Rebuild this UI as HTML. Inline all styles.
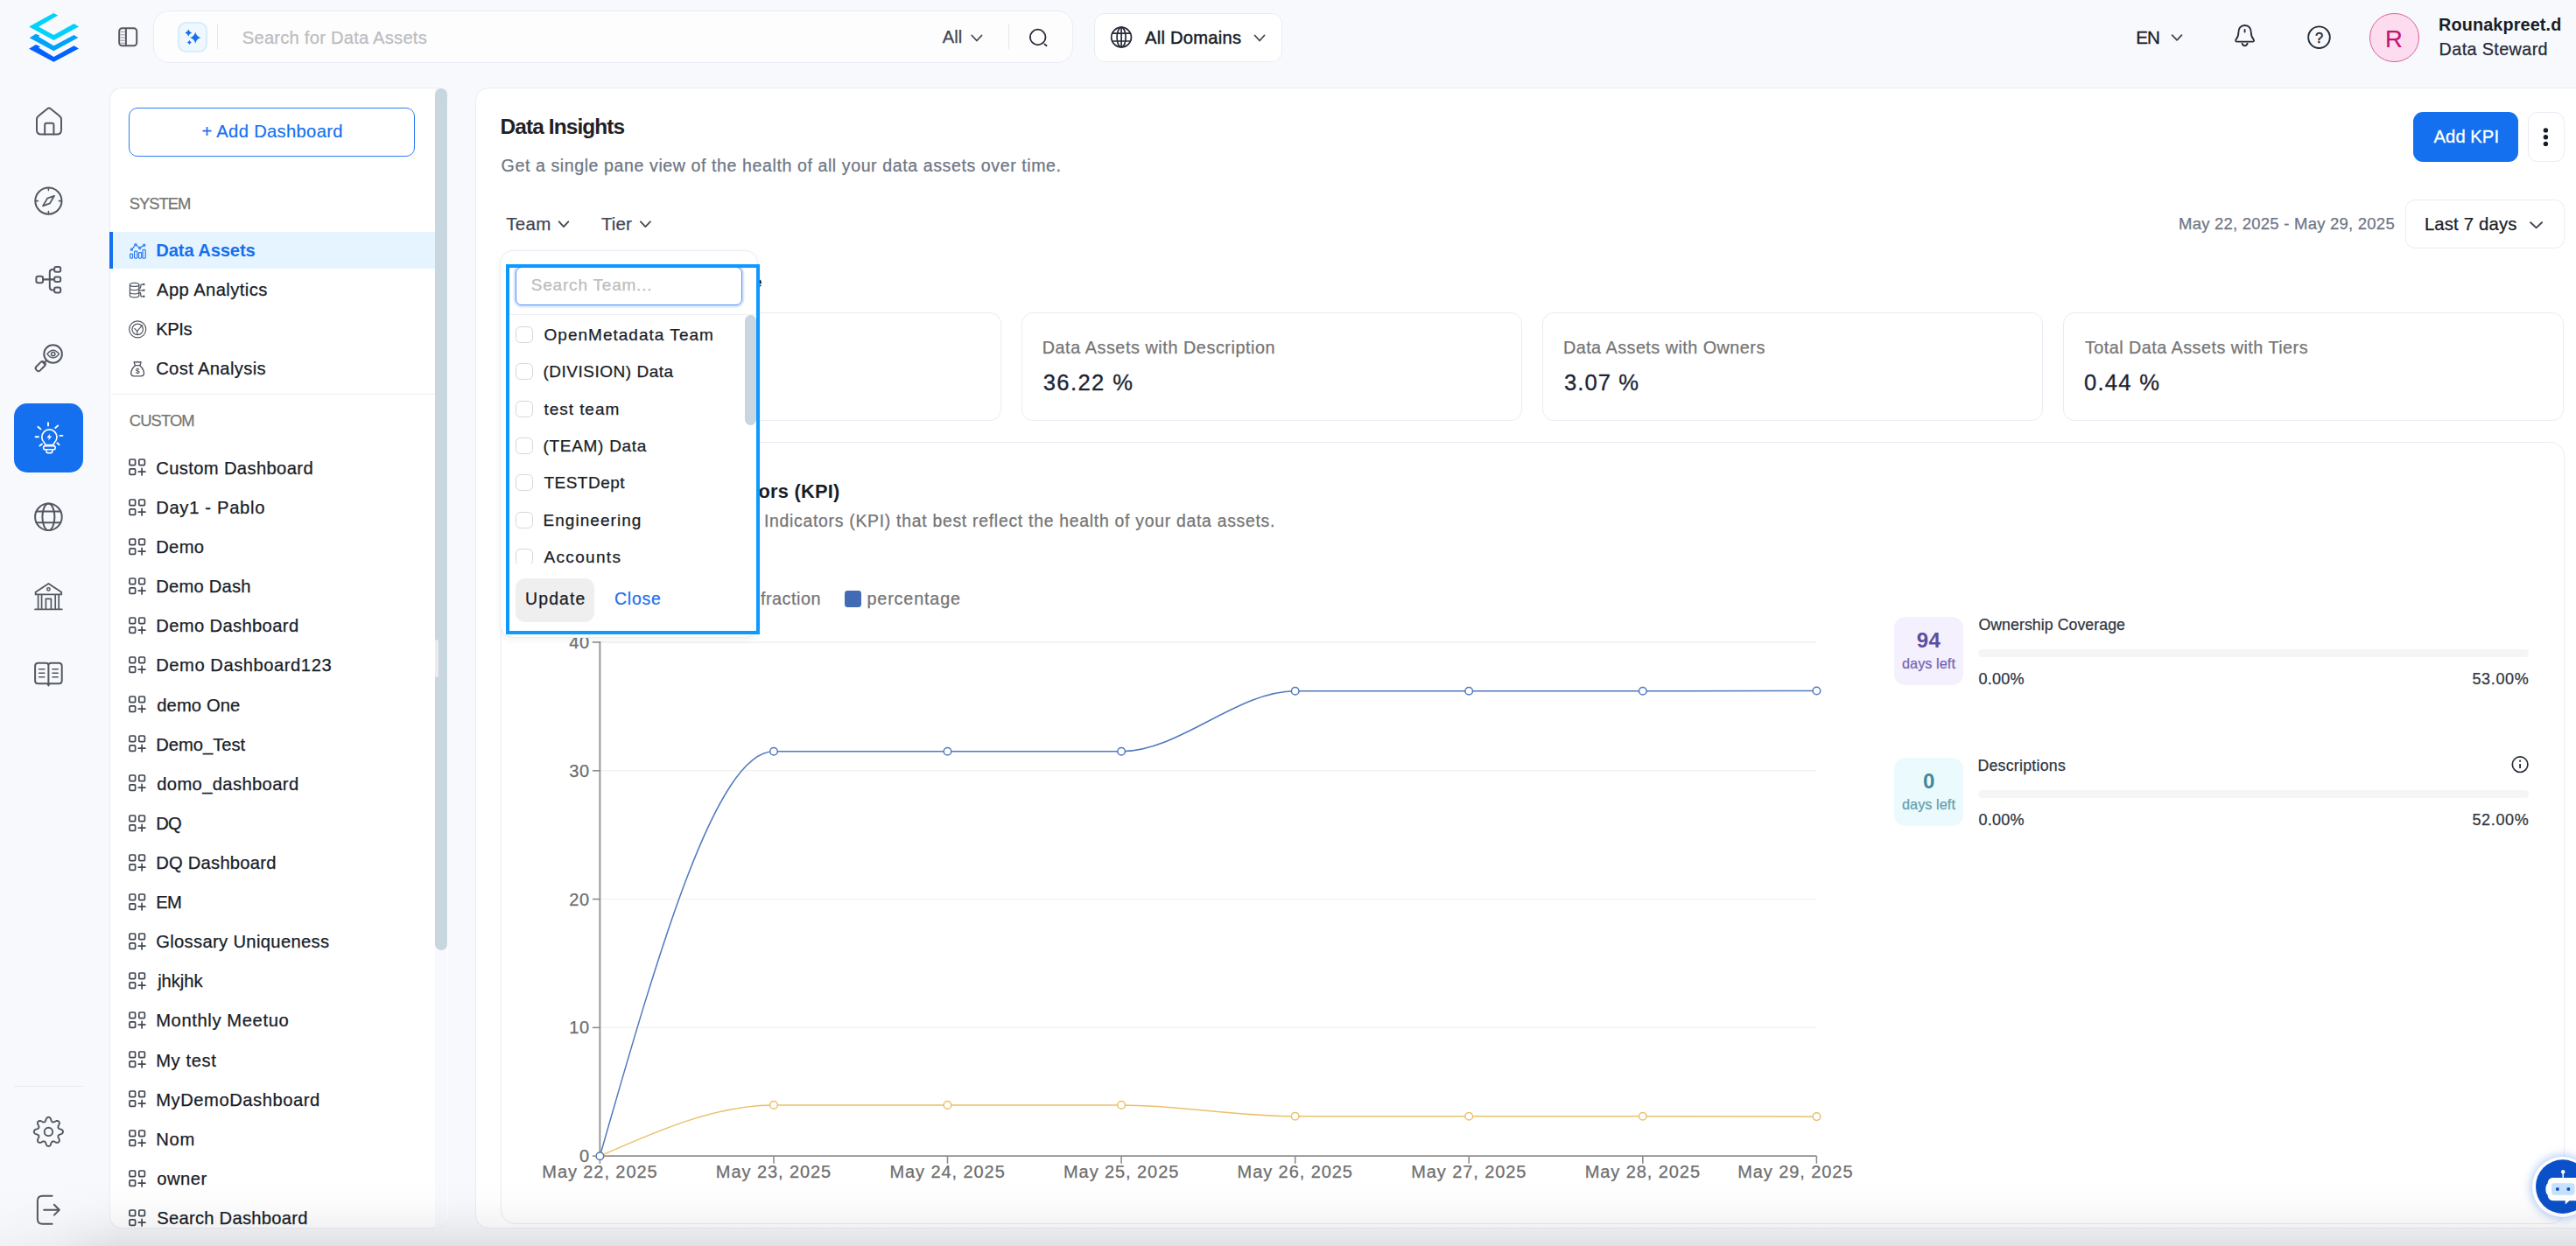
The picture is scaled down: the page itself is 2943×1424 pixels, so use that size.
<!DOCTYPE html>
<html lang="en"><head><meta charset="utf-8"><title>Data Insights</title>
<style>
html,body{margin:0;padding:0;}
body{width:2943px;height:1424px;overflow:hidden;position:relative;background:#f8f9fc;font-family:"Liberation Sans",sans-serif;}
.t{position:absolute;white-space:pre;display:block;}
.b{position:absolute;box-sizing:border-box;}
svg{position:absolute;overflow:visible;}
</style></head><body>
<svg style="left:0;top:0" width="120" height="90" viewBox="0 0 120 90">
<polygon fill="#00d2fb" points="61.1,14.9 66.3,17.5 44.1,30.4 61.4,40 84.5,27.1 90,30.4 61.4,46.1 33.1,30.4"/>
<polygon fill="#00a3fa" points="33.7,43.2 40.9,38.7 45.2,40.6 44.1,41.9 61.4,52.2 84.5,40 89.4,42.9 61.4,58.3"/>
<polygon fill="#0062ff" points="33.1,55.7 40.9,51.1 46.1,53.2 44.1,54.4 61.4,65 84.5,52.2 90,55.4 61.4,70.8"/>
</svg>
<svg style="left:0;top:0" width="200" height="90">
<rect x="136.2" y="32.3" width="20" height="20" rx="3.5" fill="none" stroke="#535862" stroke-width="2"/>
<line x1="143.9" y1="32" x2="143.9" y2="52.5" stroke="#535862" stroke-width="2"/>
<g stroke="#a4a7ae" stroke-width="1.3"><line x1="137.5" y1="36.4" x2="142.8" y2="36.4"/><line x1="137.5" y1="39.7" x2="142.8" y2="39.7"/><line x1="137.5" y1="43" x2="142.8" y2="43"/><line x1="137.5" y1="46.3" x2="142.8" y2="46.3"/><line x1="137.5" y1="49.4" x2="142.8" y2="49.4"/></g>
</svg>
<div class="b" style="left:175px;top:12px;width:1051px;height:60px;background:#fdfdfe;border:1px solid #eaecf5;border-radius:18px;"></div>
<div class="b" style="left:203.2px;top:25.2px;width:34px;height:34.4px;background:#eff8ff;border:2px solid #d8edfd;border-radius:9.5px;"></div>
<svg style="left:0;top:0" width="2943" height="1424"><path d="M223.2 36.40 Q224.44 41.76 229.40 43.1 Q224.44 44.44 223.2 49.80 Q221.96 44.44 217.00 43.1 Q221.96 41.76 223.2 36.40Z" fill="#1570ef"/><path d="M215.3 33.60 Q216.16 36.64 219.20 37.5 Q216.16 38.36 215.3 41.40 Q214.44 38.36 211.40 37.5 Q214.44 36.64 215.3 33.60Z" fill="#1570ef"/><path d="M216.4 46.10 Q217.15 47.78 218.90 48.5 Q217.15 49.22 216.4 50.90 Q215.65 49.22 213.90 48.5 Q215.65 47.78 216.4 46.10Z" fill="#1570ef"/></svg>
<div class="b" style="left:248px;top:28px;width:1px;height:28px;background:#e4e7ec;"></div>
<span class="t" style="left:276.80px;top:33px;font-size:20.2px;line-height:20.2px;color:#bcbcbf;letter-spacing:0.215px;-webkit-text-stroke:0.25px #bcbcbf;">Search for Data Assets</span>
<span class="t" style="left:1076.80px;top:32px;font-size:20.2px;line-height:20.2px;color:#414651;letter-spacing:0.025px;-webkit-text-stroke:0.25px #414651;">All</span>
<svg style="left:0;top:0" width="2943" height="1424"><path d="M1110.3 40.5 L1115.9 46.5 L1121.5 40.5" fill="none" stroke="#414651" stroke-width="1.8" stroke-linecap="round" stroke-linejoin="round"/></svg>
<div class="b" style="left:1152px;top:28px;width:1px;height:28px;background:#e4e7ec;"></div>
<svg style="left:0;top:0" width="2943" height="1424"><circle cx="1185.7" cy="42.5" r="8.8" fill="none" stroke="#252b37" stroke-width="1.8"/><line x1="1193.4" y1="50.6" x2="1195.6" y2="52.2" stroke="#252b37" stroke-width="1.8" stroke-linecap="round"/></svg>
<div class="b" style="left:1249.5px;top:15px;width:215.5px;height:55.5px;background:#ffffff;border:1px solid #eaecf5;border-radius:12px;"></div>
<svg style="left:0;top:0" width="2943" height="1424"><g fill="none" stroke="#252b37" stroke-width="1.7">
<circle cx="1281.1" cy="42.6" r="11.4"/><ellipse cx="1281.1" cy="42.6" rx="5" ry="11.4"/><line x1="1281.1" y1="31.2" x2="1281.1" y2="54"/>
<path d="M1270.6 38.2 H1291.6 M1270.6 47 H1291.6"/></g></svg>
<span class="t" style="left:1308.00px;top:33px;font-size:20.2px;line-height:20.2px;color:#181d27;letter-spacing:0.239px;-webkit-text-stroke:0.45px #181d27;">All Domains</span>
<svg style="left:0;top:0" width="2943" height="1424"><path d="M1433.6 40.5 L1439.1 46.5 L1444.5 40.5" fill="none" stroke="#414651" stroke-width="1.8" stroke-linecap="round" stroke-linejoin="round"/></svg>
<span class="t" style="left:2440.30px;top:33px;font-size:20.6px;line-height:20.6px;color:#181d27;letter-spacing:-0.936px;-webkit-text-stroke:0.3px #181d27;">EN</span>
<svg style="left:0;top:0" width="2943" height="1424"><path d="M2481.6 40.1 L2487.1 45.9 L2492.5 40.1" fill="none" stroke="#414651" stroke-width="1.8" stroke-linecap="round" stroke-linejoin="round"/></svg>
<svg style="left:2552.8px;top:27.8px" width="23.2" height="25.3" viewBox="0 0 23.2 25.3"><g fill="none" stroke="#252b37" stroke-width="1.8" stroke-linecap="round" stroke-linejoin="round">
<path d="M11.6 1 C6.6 1 4.4 4.8 4.4 9 C4.4 13.5 3 15.5 1.5 17.2 C0.6 18.3 1.2 19.6 2.8 19.6 H20.4 C22 19.6 22.6 18.3 21.7 17.2 C20.2 15.5 18.8 13.5 18.8 9 C18.8 4.8 16.6 1 11.6 1Z"/>
<path d="M8.6 21.6 C9.2 23.4 10.2 24.3 11.6 24.3 C13 24.3 14 23.4 14.6 21.6"/><line x1="11.6" y1="5.8" x2="11.6" y2="8.6"/></g></svg>
<svg style="left:0;top:0" width="2943" height="1424"><circle cx="2649.5" cy="42.7" r="12.3" fill="none" stroke="#252b37" stroke-width="1.9"/></svg>
<span class="t" style="left:2644.90px;top:35px;font-size:16.5px;line-height:16.5px;color:#252b37;-webkit-text-stroke:0.5px #252b37;">?</span>
<div class="b" style="left:2707px;top:14.7px;width:56.8px;height:56.6px;background:#fddcf0;border:1.4px solid #d6609c;border-radius:29px;"></div>
<span class="t" style="left:2725.10px;top:31px;font-size:27.4px;line-height:27.4px;color:#c11574;-webkit-text-stroke:0.2px #c11574;">R</span>
<span class="t" style="left:2786.00px;top:19px;font-size:19.8px;line-height:19.8px;color:#181d27;font-weight:700;letter-spacing:0.150px;">Rounakpreet.d</span>
<span class="t" style="left:2786.60px;top:47px;font-size:19.8px;line-height:19.8px;color:#252b37;letter-spacing:0.378px;-webkit-text-stroke:0.25px #252b37;">Data Steward</span>
<svg style="left:0;top:0" width="2943" height="1424"><g fill="none" stroke="#535862" stroke-width="2" stroke-linecap="round" stroke-linejoin="round"><path d="M42 136.5 C42 134.8 42.6 133.6 44 132.6 L54.2 124.2 C55.4 123.3 56.6 123.3 57.8 124.2 L68 132.6 C69.4 133.6 70 134.8 70 136.5 V148.5 C70 151.8 68.2 153.6 65 153.6 H47 C43.8 153.6 42 151.8 42 148.5 Z"/><path d="M51.2 153.4 V142.6 C51.2 141.4 51.9 140.7 53.1 140.7 H59.5 C60.7 140.7 61.4 141.4 61.4 142.6 V153.4"/></g></svg>
<svg style="left:0;top:0" width="2943" height="1424"><g fill="none" stroke="#535862" stroke-width="2" stroke-linecap="round" stroke-linejoin="round"><circle cx="55.4" cy="229.6" r="15.1"/><path d="M55.4 214.8 V217.6 M55.4 241.6 V244.4 M40.6 229.6 H43.4 M67.4 229.6 H70.2" stroke-width="1.6"/><path d="M62 223.8 L54.2 226.6 L49 235.4 L57 232.4 Z" stroke-width="1.8"/></g></svg>
<svg style="left:0;top:0" width="2943" height="1424"><g fill="none" stroke="#535862" stroke-width="2" stroke-linecap="round" stroke-linejoin="round"><rect x="41.4" y="315.7" width="7.7" height="7.6" rx="2.2"/><rect x="62.1" y="304.9" width="7.1" height="5.8" rx="2"/><rect x="62.1" y="316.5" width="7.1" height="5.6" rx="2"/><rect x="62.1" y="328.6" width="7.1" height="5.9" rx="2"/><path d="M49.4 319.4 H61.8" stroke-width="2.4"/><path d="M61.8 307.9 H60 C57.9 307.9 56.8 309 56.8 311.1 V328.3 C56.8 330.4 57.9 331.5 60 331.5 H61.8"/></g></svg>
<svg style="left:0;top:0" width="2943" height="1424"><g fill="none" stroke="#535862" stroke-width="2" stroke-linecap="round" stroke-linejoin="round"><circle cx="60.6" cy="404.5" r="10.3"/><path d="M53.2 412 L51 414.4"/><rect x="-3.1" y="-6.2" width="6.2" height="12.4" rx="2.6" transform="translate(46.2 418.6) rotate(45)"/><path d="M48.4 413.6 L51.4 416.8" stroke-width="1.6"/><path d="M54 404.6 C56.4 401.4 58.6 400.3 60.7 400.3 C62.8 400.3 65 401.4 67.4 404.6 C65 407.8 62.8 408.9 60.7 408.9 C58.6 408.9 56.4 407.8 54 404.6 Z" stroke-width="1.5"/><circle cx="60.7" cy="404.6" r="2.2" stroke-width="1.5"/></g></svg>
<div class="b" style="left:15.9px;top:460.8px;width:79.5px;height:79px;background:#1570ef;border-radius:15px;"></div>
<svg style="left:0;top:0" width="2943" height="1424"><g fill="none" stroke="#ffffff" stroke-width="2" stroke-linecap="round" stroke-linejoin="round"><path d="M55 483.2 V486.4 M43.4 487.8 L46.4 490.4 M66.2 486.4 L63.2 489 M40.6 499.3 H44 M68.4 497.9 H71.4 M45.4 509.4 L47.9 507.4 M65.4 506.2 L67.5 508.3" stroke-width="1.9"/><path d="M52 508.6 L50.6 505.9 A8.6 8.6 0 1 1 62.2 505.9 L60.8 508.6 Z" stroke-width="1.7"/><rect x="49.6" y="509.6" width="13.6" height="4.2" rx="2.1" stroke-width="1.6"/><path d="M53 514.6 V515.8 C53 517 53.7 517.6 54.9 517.6 H57.9 C59.1 517.6 59.8 517 59.8 515.8 V514.6" stroke-width="1.6"/><path d="M57.3 495.4 L53.4 500.3 H56 L55.1 503.6 L59.2 498.5 H56.6 Z" fill="#ffffff" stroke="none"/></g></svg>
<svg style="left:0;top:0" width="2943" height="1424"><g fill="none" stroke="#535862" stroke-width="2" stroke-linecap="round" stroke-linejoin="round"><circle cx="55.4" cy="590.8" r="15.3"/><ellipse cx="55.4" cy="590.8" rx="7" ry="15.3"/><path d="M41.6 584.4 H69.2 M41.6 597.2 H69.2"/></g></svg>
<svg style="left:0;top:0" width="2943" height="1424"><g fill="none" stroke="#535862" stroke-width="2" stroke-linecap="round" stroke-linejoin="round"><path d="M40.6 676.8 L55.4 667 L70.2 676.8 V679.4 H40.6 Z" stroke-width="1.8"/><circle cx="55.4" cy="673.4" r="1.7" stroke-width="1.5"/><path d="M43.6 679.8 V695.6 M47.6 679.8 V695.6 M63.2 679.8 V695.6 M67.2 679.8 V695.6 M52.4 695.6 V684.4 H58.4 V695.6 M40 696.4 H70.8" stroke-width="1.7"/></g></svg>
<svg style="left:0;top:0" width="2943" height="1424"><g fill="none" stroke="#535862" stroke-width="2" stroke-linecap="round" stroke-linejoin="round"><path d="M55.4 760.6 C55.4 758.8 54.4 757.8 52.6 757.8 H43.6 C41.3 757.8 40.1 759 40.1 761.3 V777.8 C40.1 780.1 41.3 781.3 43.6 781.3 H52.6 C54.4 781.3 55.4 782 55.4 783.4 C55.4 782 56.4 781.3 58.2 781.3 H67.2 C69.5 781.3 70.7 780.1 70.7 777.8 V761.3 C70.7 759 69.5 757.8 67.2 757.8 H58.2 C56.4 757.8 55.4 758.8 55.4 760.6 V783.6"/><path d="M44.6 764.8 H50.8 M44.6 769.3 H50.8 M44.6 773.8 H50.8 M60 764.8 H66.2 M60 769.3 H66.2 M60 773.8 H66.2" stroke-width="1.6"/></g></svg>
<div class="b" style="left:16px;top:1240.6px;width:79.4px;height:1px;background:#e9eaeb;"></div>
<svg style="left:0;top:0" width="2943" height="1424"><g fill="none" stroke="#535862" stroke-width="1.9" stroke-linejoin="round">
<path d="M55.40 1276.80 L56.05 1276.89 L56.68 1277.17 L57.27 1277.62 L57.80 1278.28 L58.19 1279.37 L58.50 1280.48 L58.85 1281.16 L59.21 1281.69 L59.58 1282.07 L59.99 1282.31 L60.46 1282.43 L60.99 1282.43 L61.61 1282.31 L62.34 1282.07 L63.34 1281.51 L64.40 1281.01 L65.23 1280.92 L65.97 1281.02 L66.61 1281.27 L67.14 1281.66 L67.53 1282.19 L67.78 1282.83 L67.88 1283.57 L67.79 1284.40 L67.29 1285.46 L66.73 1286.46 L66.49 1287.19 L66.37 1287.81 L66.37 1288.34 L66.49 1288.81 L66.73 1289.22 L67.11 1289.59 L67.64 1289.95 L68.32 1290.30 L69.43 1290.61 L70.52 1291.00 L71.18 1291.53 L71.63 1292.12 L71.91 1292.75 L72.00 1293.40 L71.91 1294.05 L71.63 1294.68 L71.18 1295.27 L70.52 1295.80 L69.43 1296.19 L68.32 1296.50 L67.64 1296.85 L67.11 1297.21 L66.73 1297.58 L66.49 1297.99 L66.37 1298.46 L66.37 1298.99 L66.49 1299.61 L66.73 1300.34 L67.29 1301.34 L67.79 1302.40 L67.88 1303.23 L67.78 1303.97 L67.53 1304.61 L67.14 1305.14 L66.61 1305.53 L65.97 1305.78 L65.23 1305.88 L64.40 1305.79 L63.34 1305.29 L62.34 1304.73 L61.61 1304.49 L60.99 1304.37 L60.46 1304.37 L59.99 1304.49 L59.58 1304.73 L59.21 1305.11 L58.85 1305.64 L58.50 1306.32 L58.19 1307.43 L57.80 1308.52 L57.27 1309.18 L56.68 1309.63 L56.05 1309.91 L55.40 1310.00 L54.75 1309.91 L54.12 1309.63 L53.53 1309.18 L53.00 1308.52 L52.61 1307.43 L52.30 1306.32 L51.95 1305.64 L51.59 1305.11 L51.22 1304.73 L50.81 1304.49 L50.34 1304.37 L49.81 1304.37 L49.19 1304.49 L48.46 1304.73 L47.46 1305.29 L46.40 1305.79 L45.57 1305.88 L44.83 1305.78 L44.19 1305.53 L43.66 1305.14 L43.27 1304.61 L43.02 1303.97 L42.92 1303.23 L43.01 1302.40 L43.51 1301.34 L44.07 1300.34 L44.31 1299.61 L44.43 1298.99 L44.43 1298.46 L44.31 1297.99 L44.07 1297.58 L43.69 1297.21 L43.16 1296.85 L42.48 1296.50 L41.37 1296.19 L40.28 1295.80 L39.62 1295.27 L39.17 1294.68 L38.89 1294.05 L38.80 1293.40 L38.89 1292.75 L39.17 1292.12 L39.62 1291.53 L40.28 1291.00 L41.37 1290.61 L42.48 1290.30 L43.16 1289.95 L43.69 1289.59 L44.07 1289.22 L44.31 1288.81 L44.43 1288.34 L44.43 1287.81 L44.31 1287.19 L44.07 1286.46 L43.51 1285.46 L43.01 1284.40 L42.92 1283.57 L43.02 1282.83 L43.27 1282.19 L43.66 1281.66 L44.19 1281.27 L44.83 1281.02 L45.57 1280.92 L46.40 1281.01 L47.46 1281.51 L48.46 1282.07 L49.19 1282.31 L49.81 1282.43 L50.34 1282.43 L50.81 1282.31 L51.22 1282.07 L51.59 1281.69 L51.95 1281.16 L52.30 1280.48 L52.61 1279.37 L53.00 1278.28 L53.53 1277.62 L54.12 1277.17 L54.75 1276.89 Z"/>
<circle cx="55.4" cy="1293.4" r="4.7"/></g></svg>
<svg style="left:0;top:0" width="2943" height="1424"><g fill="none" stroke="#535862" stroke-width="2" stroke-linecap="round" stroke-linejoin="round"><path d="M59.6 1366.8 H48.4 C44.8 1366.8 42.9 1368.7 42.9 1372.3 V1393.3 C42.9 1396.9 44.8 1398.8 48.4 1398.8 H59.6"/><path d="M50.2 1382.7 H67.6 M61.9 1376.8 L67.8 1382.7 L61.9 1388.6"/></g></svg>
<div class="b" style="left:124.5px;top:100.3px;width:387px;height:1304px;background:#ffffff;border:1px solid #eaecf5;border-radius:14px;border-right:none;"></div>
<div class="b" style="left:497px;top:100.8px;width:14px;height:1303px;background:#f8f9fc;border-radius:0 14px 14px 0;"></div>
<div class="b" style="left:497px;top:100.8px;width:14px;height:985px;background:#c8d6e0;border-radius:7px;"></div>
<div class="b" style="left:497.3px;top:731.3px;width:3.8px;height:42.5px;background:#ebebee;border-radius:1.9px;"></div>
<div class="b" style="left:147px;top:122.8px;width:327px;height:56.4px;background:#ffffff;border:1.6px solid #2e7cf1;border-radius:10px;"></div>
<span class="t" style="left:230.40px;top:140px;font-size:20.2px;line-height:20.2px;color:#1570ef;letter-spacing:0.324px;-webkit-text-stroke:0.18px #1570ef;">+ Add Dashboard</span>
<span class="t" style="left:147.80px;top:224px;font-size:18.4px;line-height:18.4px;color:#777672;letter-spacing:-1.040px;-webkit-text-stroke:0.25px #777672;">SYSTEM</span>
<div class="b" style="left:125px;top:264.8px;width:372px;height:42.6px;background:#e6f4ff;"></div>
<div class="b" style="left:125px;top:264.8px;width:4.2px;height:42.6px;background:#1570ef;"></div>
<span class="t" style="left:178.30px;top:276px;font-size:20.2px;line-height:20.2px;color:#1570ef;font-weight:700;letter-spacing:-0.135px;">Data Assets</span>
<span class="t" style="left:179.00px;top:321px;font-size:20.2px;line-height:20.2px;color:#181d27;letter-spacing:0.432px;-webkit-text-stroke:0.25px #181d27;">App Analytics</span>
<span class="t" style="left:178.20px;top:366px;font-size:20.2px;line-height:20.2px;color:#181d27;letter-spacing:-0.446px;-webkit-text-stroke:0.25px #181d27;">KPIs</span>
<span class="t" style="left:178.20px;top:411px;font-size:20.2px;line-height:20.2px;color:#181d27;letter-spacing:0.350px;-webkit-text-stroke:0.25px #181d27;">Cost Analysis</span>
<svg style="left:0;top:0" width="2943" height="1424"><g fill="none" stroke="#2f7df2" stroke-width="1.25" stroke-linejoin="round" stroke-linecap="round">
<rect x="148.6" y="290" width="3" height="5" rx="0.8"/><rect x="153.6" y="287" width="3.2" height="8" rx="0.8"/><rect x="158.5" y="288.6" width="3.2" height="6.4" rx="0.8"/><rect x="163" y="285.4" width="3.2" height="9.6" rx="0.8"/>
<path d="M151.2 284.4 L153.9 280.8 M155.9 280.4 L158.7 282.9 M160.6 282.6 L163.6 280.8"/>
<circle cx="150.4" cy="285.2" r="1.1"/><circle cx="154.9" cy="279.6" r="1.1"/><circle cx="159.6" cy="283.4" r="1.1"/><circle cx="164.7" cy="280.2" r="1.1"/></g></svg>
<svg style="left:0;top:0" width="2943" height="1424"><g fill="none" stroke="#535862" stroke-width="1.25" stroke-linecap="round">
<ellipse cx="153.6" cy="325.4" rx="5.2" ry="2"/><path d="M148.4 325.4 V337.8 C148.4 339 150.8 339.9 153.6 339.9 C156.4 339.9 158.8 339 158.8 337.8 V325.4 M148.4 329.6 C148.4 330.8 150.8 331.7 153.6 331.7 C156.4 331.7 158.8 330.8 158.8 329.6 M148.4 333.8 C148.4 335 150.8 335.9 153.6 335.9 C156.4 335.9 158.8 335 158.8 333.8"/>
<path d="M158.8 329 L160.4 329 L161.2 325 H163 M158.8 331.8 H163 M158.8 334.6 L160.4 334.6 L161.2 338.8 H163"/></g>
<g fill="#535862"><circle cx="164.3" cy="325" r="1.3"/><circle cx="164.3" cy="331.8" r="1.3"/><circle cx="164.3" cy="338.8" r="1.3"/></g></svg>
<svg style="left:0;top:0" width="2943" height="1424"><g fill="none" stroke="#535862" stroke-width="1.2" stroke-linecap="round" stroke-linejoin="round">
<circle cx="157.2" cy="376.4" r="9.5"/><circle cx="157.2" cy="376.4" r="6.2"/>
<path d="M153.8 375.4 L156.6 378.6 L162.6 371.6 M156.8 378.6 V381.4"/></g></svg>
<svg style="left:0;top:0" width="2943" height="1424"><g fill="none" stroke="#535862" stroke-width="1.35" stroke-linecap="round" stroke-linejoin="round">
<path d="M154.4 417.6 L153.2 414.4 C153 413.8 153.4 413.4 154 413.6 L155.6 414.2 L157.1 413.3 L158.7 414.2 L160.2 413.6 C160.8 413.4 161.2 413.8 161 414.4 L159.8 417.6 Z"/>
<path d="M154.4 417.8 C151.6 420.4 149.7 423.8 149.7 426.6 C149.7 428.8 150.9 429.8 153.2 429.8 H161 C163.3 429.8 164.5 428.8 164.5 426.6 C164.5 423.8 162.6 420.4 159.8 417.8"/></g></svg>
<span class="t" style="left:154.70px;top:420px;font-size:8.6px;line-height:8.6px;color:#535862;font-weight:700;">$</span>
<div class="b" style="left:125px;top:449.8px;width:372px;height:1px;background:#f0f1f3;"></div>
<span class="t" style="left:147.80px;top:472px;font-size:18.4px;line-height:18.4px;color:#777672;letter-spacing:-0.907px;-webkit-text-stroke:0.25px #777672;">CUSTOM</span>
<div class="b" style="left:125px;top:500px;width:372px;height:904px;overflow:hidden;">
<span class="t" style="left:53.20px;top:25px;font-size:20.2px;line-height:20.2px;color:#181d27;letter-spacing:0.367px;-webkit-text-stroke:0.25px #181d27;">Custom Dashboard</span>
<svg style="left:22.2px;top:24.4px" width="20" height="20" viewBox="0 0 20 20"><g fill="none" stroke="#414651" stroke-width="1.7" stroke-linejoin="round"><rect x="1" y="1" width="6.6" height="6.6" rx="1.2"/><rect x="11.8" y="1" width="6.6" height="6.6" rx="1.2"/><rect x="1" y="11.8" width="6.6" height="6.6" rx="1.2"/><path d="M15.1 11.4 V19 M11.3 15.2 H18.9" stroke-linecap="round"/></g></svg>
<span class="t" style="left:53.20px;top:70px;font-size:20.2px;line-height:20.2px;color:#181d27;letter-spacing:0.684px;-webkit-text-stroke:0.25px #181d27;">Day1 - Pablo</span>
<svg style="left:22.2px;top:69.5px" width="20" height="20" viewBox="0 0 20 20"><g fill="none" stroke="#414651" stroke-width="1.7" stroke-linejoin="round"><rect x="1" y="1" width="6.6" height="6.6" rx="1.2"/><rect x="11.8" y="1" width="6.6" height="6.6" rx="1.2"/><rect x="1" y="11.8" width="6.6" height="6.6" rx="1.2"/><path d="M15.1 11.4 V19 M11.3 15.2 H18.9" stroke-linecap="round"/></g></svg>
<span class="t" style="left:53.20px;top:115px;font-size:20.2px;line-height:20.2px;color:#181d27;letter-spacing:0.326px;-webkit-text-stroke:0.25px #181d27;">Demo</span>
<svg style="left:22.2px;top:114.6px" width="20" height="20" viewBox="0 0 20 20"><g fill="none" stroke="#414651" stroke-width="1.7" stroke-linejoin="round"><rect x="1" y="1" width="6.6" height="6.6" rx="1.2"/><rect x="11.8" y="1" width="6.6" height="6.6" rx="1.2"/><rect x="1" y="11.8" width="6.6" height="6.6" rx="1.2"/><path d="M15.1 11.4 V19 M11.3 15.2 H18.9" stroke-linecap="round"/></g></svg>
<span class="t" style="left:53.20px;top:160px;font-size:20.2px;line-height:20.2px;color:#181d27;letter-spacing:0.218px;-webkit-text-stroke:0.25px #181d27;">Demo Dash</span>
<svg style="left:22.2px;top:159.8px" width="20" height="20" viewBox="0 0 20 20"><g fill="none" stroke="#414651" stroke-width="1.7" stroke-linejoin="round"><rect x="1" y="1" width="6.6" height="6.6" rx="1.2"/><rect x="11.8" y="1" width="6.6" height="6.6" rx="1.2"/><rect x="1" y="11.8" width="6.6" height="6.6" rx="1.2"/><path d="M15.1 11.4 V19 M11.3 15.2 H18.9" stroke-linecap="round"/></g></svg>
<span class="t" style="left:53.20px;top:205px;font-size:20.2px;line-height:20.2px;color:#181d27;letter-spacing:0.362px;-webkit-text-stroke:0.25px #181d27;">Demo Dashboard</span>
<svg style="left:22.2px;top:204.9px" width="20" height="20" viewBox="0 0 20 20"><g fill="none" stroke="#414651" stroke-width="1.7" stroke-linejoin="round"><rect x="1" y="1" width="6.6" height="6.6" rx="1.2"/><rect x="11.8" y="1" width="6.6" height="6.6" rx="1.2"/><rect x="1" y="11.8" width="6.6" height="6.6" rx="1.2"/><path d="M15.1 11.4 V19 M11.3 15.2 H18.9" stroke-linecap="round"/></g></svg>
<span class="t" style="left:53.20px;top:250px;font-size:20.2px;line-height:20.2px;color:#181d27;letter-spacing:0.533px;-webkit-text-stroke:0.25px #181d27;">Demo Dashboard123</span>
<svg style="left:22.2px;top:250.0px" width="20" height="20" viewBox="0 0 20 20"><g fill="none" stroke="#414651" stroke-width="1.7" stroke-linejoin="round"><rect x="1" y="1" width="6.6" height="6.6" rx="1.2"/><rect x="11.8" y="1" width="6.6" height="6.6" rx="1.2"/><rect x="1" y="11.8" width="6.6" height="6.6" rx="1.2"/><path d="M15.1 11.4 V19 M11.3 15.2 H18.9" stroke-linecap="round"/></g></svg>
<span class="t" style="left:54.20px;top:296px;font-size:20.2px;line-height:20.2px;color:#181d27;letter-spacing:0.123px;-webkit-text-stroke:0.25px #181d27;">demo One</span>
<svg style="left:22.2px;top:295.1px" width="20" height="20" viewBox="0 0 20 20"><g fill="none" stroke="#414651" stroke-width="1.7" stroke-linejoin="round"><rect x="1" y="1" width="6.6" height="6.6" rx="1.2"/><rect x="11.8" y="1" width="6.6" height="6.6" rx="1.2"/><rect x="1" y="11.8" width="6.6" height="6.6" rx="1.2"/><path d="M15.1 11.4 V19 M11.3 15.2 H18.9" stroke-linecap="round"/></g></svg>
<span class="t" style="left:53.20px;top:341px;font-size:20.2px;line-height:20.2px;color:#181d27;letter-spacing:-0.024px;-webkit-text-stroke:0.25px #181d27;">Demo_Test</span>
<svg style="left:22.2px;top:340.2px" width="20" height="20" viewBox="0 0 20 20"><g fill="none" stroke="#414651" stroke-width="1.7" stroke-linejoin="round"><rect x="1" y="1" width="6.6" height="6.6" rx="1.2"/><rect x="11.8" y="1" width="6.6" height="6.6" rx="1.2"/><rect x="1" y="11.8" width="6.6" height="6.6" rx="1.2"/><path d="M15.1 11.4 V19 M11.3 15.2 H18.9" stroke-linecap="round"/></g></svg>
<span class="t" style="left:54.20px;top:386px;font-size:20.2px;line-height:20.2px;color:#181d27;letter-spacing:0.369px;-webkit-text-stroke:0.25px #181d27;">domo_dashboard</span>
<svg style="left:22.2px;top:385.4px" width="20" height="20" viewBox="0 0 20 20"><g fill="none" stroke="#414651" stroke-width="1.7" stroke-linejoin="round"><rect x="1" y="1" width="6.6" height="6.6" rx="1.2"/><rect x="11.8" y="1" width="6.6" height="6.6" rx="1.2"/><rect x="1" y="11.8" width="6.6" height="6.6" rx="1.2"/><path d="M15.1 11.4 V19 M11.3 15.2 H18.9" stroke-linecap="round"/></g></svg>
<span class="t" style="left:53.20px;top:431px;font-size:20.2px;line-height:20.2px;color:#181d27;letter-spacing:-0.679px;-webkit-text-stroke:0.25px #181d27;">DQ</span>
<svg style="left:22.2px;top:430.5px" width="20" height="20" viewBox="0 0 20 20"><g fill="none" stroke="#414651" stroke-width="1.7" stroke-linejoin="round"><rect x="1" y="1" width="6.6" height="6.6" rx="1.2"/><rect x="11.8" y="1" width="6.6" height="6.6" rx="1.2"/><rect x="1" y="11.8" width="6.6" height="6.6" rx="1.2"/><path d="M15.1 11.4 V19 M11.3 15.2 H18.9" stroke-linecap="round"/></g></svg>
<span class="t" style="left:53.20px;top:476px;font-size:20.2px;line-height:20.2px;color:#181d27;letter-spacing:0.234px;-webkit-text-stroke:0.25px #181d27;">DQ Dashboard</span>
<svg style="left:22.2px;top:475.6px" width="20" height="20" viewBox="0 0 20 20"><g fill="none" stroke="#414651" stroke-width="1.7" stroke-linejoin="round"><rect x="1" y="1" width="6.6" height="6.6" rx="1.2"/><rect x="11.8" y="1" width="6.6" height="6.6" rx="1.2"/><rect x="1" y="11.8" width="6.6" height="6.6" rx="1.2"/><path d="M15.1 11.4 V19 M11.3 15.2 H18.9" stroke-linecap="round"/></g></svg>
<span class="t" style="left:53.20px;top:521px;font-size:20.2px;line-height:20.2px;color:#181d27;letter-spacing:-0.565px;-webkit-text-stroke:0.25px #181d27;">EM</span>
<svg style="left:22.2px;top:520.7px" width="20" height="20" viewBox="0 0 20 20"><g fill="none" stroke="#414651" stroke-width="1.7" stroke-linejoin="round"><rect x="1" y="1" width="6.6" height="6.6" rx="1.2"/><rect x="11.8" y="1" width="6.6" height="6.6" rx="1.2"/><rect x="1" y="11.8" width="6.6" height="6.6" rx="1.2"/><path d="M15.1 11.4 V19 M11.3 15.2 H18.9" stroke-linecap="round"/></g></svg>
<span class="t" style="left:53.20px;top:566px;font-size:20.2px;line-height:20.2px;color:#181d27;letter-spacing:0.335px;-webkit-text-stroke:0.25px #181d27;">Glossary Uniqueness</span>
<svg style="left:22.2px;top:565.8px" width="20" height="20" viewBox="0 0 20 20"><g fill="none" stroke="#414651" stroke-width="1.7" stroke-linejoin="round"><rect x="1" y="1" width="6.6" height="6.6" rx="1.2"/><rect x="11.8" y="1" width="6.6" height="6.6" rx="1.2"/><rect x="1" y="11.8" width="6.6" height="6.6" rx="1.2"/><path d="M15.1 11.4 V19 M11.3 15.2 H18.9" stroke-linecap="round"/></g></svg>
<span class="t" style="left:55.20px;top:611px;font-size:20.2px;line-height:20.2px;color:#181d27;letter-spacing:-0.064px;-webkit-text-stroke:0.25px #181d27;">jhkjhk</span>
<svg style="left:22.2px;top:611.0px" width="20" height="20" viewBox="0 0 20 20"><g fill="none" stroke="#414651" stroke-width="1.7" stroke-linejoin="round"><rect x="1" y="1" width="6.6" height="6.6" rx="1.2"/><rect x="11.8" y="1" width="6.6" height="6.6" rx="1.2"/><rect x="1" y="11.8" width="6.6" height="6.6" rx="1.2"/><path d="M15.1 11.4 V19 M11.3 15.2 H18.9" stroke-linecap="round"/></g></svg>
<span class="t" style="left:53.20px;top:656px;font-size:20.2px;line-height:20.2px;color:#181d27;letter-spacing:0.608px;-webkit-text-stroke:0.25px #181d27;">Monthly Meetuo</span>
<svg style="left:22.2px;top:656.1px" width="20" height="20" viewBox="0 0 20 20"><g fill="none" stroke="#414651" stroke-width="1.7" stroke-linejoin="round"><rect x="1" y="1" width="6.6" height="6.6" rx="1.2"/><rect x="11.8" y="1" width="6.6" height="6.6" rx="1.2"/><rect x="1" y="11.8" width="6.6" height="6.6" rx="1.2"/><path d="M15.1 11.4 V19 M11.3 15.2 H18.9" stroke-linecap="round"/></g></svg>
<span class="t" style="left:53.20px;top:702px;font-size:20.2px;line-height:20.2px;color:#181d27;letter-spacing:0.592px;-webkit-text-stroke:0.25px #181d27;">My test</span>
<svg style="left:22.2px;top:701.2px" width="20" height="20" viewBox="0 0 20 20"><g fill="none" stroke="#414651" stroke-width="1.7" stroke-linejoin="round"><rect x="1" y="1" width="6.6" height="6.6" rx="1.2"/><rect x="11.8" y="1" width="6.6" height="6.6" rx="1.2"/><rect x="1" y="11.8" width="6.6" height="6.6" rx="1.2"/><path d="M15.1 11.4 V19 M11.3 15.2 H18.9" stroke-linecap="round"/></g></svg>
<span class="t" style="left:53.20px;top:747px;font-size:20.2px;line-height:20.2px;color:#181d27;letter-spacing:0.536px;-webkit-text-stroke:0.25px #181d27;">MyDemoDashboard</span>
<svg style="left:22.2px;top:746.3px" width="20" height="20" viewBox="0 0 20 20"><g fill="none" stroke="#414651" stroke-width="1.7" stroke-linejoin="round"><rect x="1" y="1" width="6.6" height="6.6" rx="1.2"/><rect x="11.8" y="1" width="6.6" height="6.6" rx="1.2"/><rect x="1" y="11.8" width="6.6" height="6.6" rx="1.2"/><path d="M15.1 11.4 V19 M11.3 15.2 H18.9" stroke-linecap="round"/></g></svg>
<span class="t" style="left:53.20px;top:792px;font-size:20.2px;line-height:20.2px;color:#181d27;letter-spacing:0.747px;-webkit-text-stroke:0.25px #181d27;">Nom</span>
<svg style="left:22.2px;top:791.4px" width="20" height="20" viewBox="0 0 20 20"><g fill="none" stroke="#414651" stroke-width="1.7" stroke-linejoin="round"><rect x="1" y="1" width="6.6" height="6.6" rx="1.2"/><rect x="11.8" y="1" width="6.6" height="6.6" rx="1.2"/><rect x="1" y="11.8" width="6.6" height="6.6" rx="1.2"/><path d="M15.1 11.4 V19 M11.3 15.2 H18.9" stroke-linecap="round"/></g></svg>
<span class="t" style="left:54.20px;top:837px;font-size:20.2px;line-height:20.2px;color:#181d27;letter-spacing:0.485px;-webkit-text-stroke:0.25px #181d27;">owner</span>
<svg style="left:22.2px;top:836.6px" width="20" height="20" viewBox="0 0 20 20"><g fill="none" stroke="#414651" stroke-width="1.7" stroke-linejoin="round"><rect x="1" y="1" width="6.6" height="6.6" rx="1.2"/><rect x="11.8" y="1" width="6.6" height="6.6" rx="1.2"/><rect x="1" y="11.8" width="6.6" height="6.6" rx="1.2"/><path d="M15.1 11.4 V19 M11.3 15.2 H18.9" stroke-linecap="round"/></g></svg>
<span class="t" style="left:54.20px;top:882px;font-size:20.2px;line-height:20.2px;color:#181d27;letter-spacing:0.266px;-webkit-text-stroke:0.25px #181d27;">Search Dashboard</span>
<svg style="left:22.2px;top:881.7px" width="20" height="20" viewBox="0 0 20 20"><g fill="none" stroke="#414651" stroke-width="1.7" stroke-linejoin="round"><rect x="1" y="1" width="6.6" height="6.6" rx="1.2"/><rect x="11.8" y="1" width="6.6" height="6.6" rx="1.2"/><rect x="1" y="11.8" width="6.6" height="6.6" rx="1.2"/><path d="M15.1 11.4 V19 M11.3 15.2 H18.9" stroke-linecap="round"/></g></svg>
</div>
<div class="b" style="left:542.5px;top:99.8px;width:2430px;height:1304.6px;background:#ffffff;border:1px solid #eaecf5;border-radius:15px;"></div>
<span class="t" style="left:571.60px;top:133px;font-size:24.4px;line-height:24.4px;color:#1f2126;font-weight:700;letter-spacing:-0.882px;">Data Insights</span>
<span class="t" style="left:572.60px;top:180px;font-size:19.6px;line-height:19.6px;color:#6f7685;letter-spacing:0.577px;-webkit-text-stroke:0.25px #6f7685;">Get a single pane view of the health of all your data assets over time.</span>
<div class="b" style="left:2757px;top:128.3px;width:120px;height:57.2px;background:#1570ef;border-radius:11px;"></div>
<span class="t" style="left:2780.60px;top:146px;font-size:20.2px;line-height:20.2px;color:#ffffff;letter-spacing:0.057px;-webkit-text-stroke:0.3px #ffffff;">Add KPI</span>
<div class="b" style="left:2887.6px;top:128.3px;width:42px;height:57.2px;background:#ffffff;border:1px solid #eaecf5;border-radius:11px;"></div>
<svg style="left:0;top:0" width="2943" height="1424"><g fill="#181d27"><circle cx="2908.4" cy="148.9" r="2.7"/><circle cx="2908.4" cy="156.7" r="2.7"/><circle cx="2908.4" cy="164.4" r="2.7"/></g></svg>
<span class="t" style="left:578.20px;top:246px;font-size:20.5px;line-height:20.5px;color:#414651;letter-spacing:0.316px;-webkit-text-stroke:0.25px #414651;">Team</span>
<svg style="left:0;top:0" width="2943" height="1424"><path d="M638.7 253.3 L644.0 259.1 L649.3 253.3" fill="none" stroke="#414651" stroke-width="1.8" stroke-linecap="round" stroke-linejoin="round"/></svg>
<span class="t" style="left:686.90px;top:246px;font-size:20.5px;line-height:20.5px;color:#414651;letter-spacing:0.094px;-webkit-text-stroke:0.25px #414651;">Tier</span>
<svg style="left:0;top:0" width="2943" height="1424"><path d="M731.9 253.3 L737.4 259.1 L742.9 253.3" fill="none" stroke="#414651" stroke-width="1.8" stroke-linecap="round" stroke-linejoin="round"/></svg>
<span class="t" style="left:2489.00px;top:247px;font-size:18.5px;line-height:18.5px;color:#6f7685;letter-spacing:0.232px;-webkit-text-stroke:0.25px #6f7685;">May 22, 2025 - May 29, 2025</span>
<div class="b" style="left:2748px;top:228.3px;width:181.6px;height:55.3px;background:#ffffff;border:1px solid #eaecf5;border-radius:11px;"></div>
<span class="t" style="left:2769.90px;top:246px;font-size:20.3px;line-height:20.3px;color:#181d27;letter-spacing:0.172px;-webkit-text-stroke:0.25px #181d27;">Last 7 days</span>
<svg style="left:0;top:0" width="2943" height="1424"><path d="M2891.1 254.2 L2897.6 260.4 L2904.0 254.2" fill="none" stroke="#414651" stroke-width="1.9" stroke-linecap="round" stroke-linejoin="round"/></svg>
<div class="b" style="left:572px;top:357px;width:571.6px;height:123.6px;background:#ffffff;border:1px solid #eaecf5;border-radius:13px;"></div>
<div class="b" style="left:1167.2px;top:357px;width:571.6px;height:123.6px;background:#ffffff;border:1px solid #eaecf5;border-radius:13px;"></div>
<span class="t" style="left:1190.70px;top:388px;font-size:19.8px;line-height:19.8px;color:#757575;letter-spacing:0.565px;-webkit-text-stroke:0.25px #757575;">Data Assets with Description</span>
<span class="t" style="left:1191.70px;top:425px;font-size:25.6px;line-height:25.6px;color:#1d2433;letter-spacing:1.390px;-webkit-text-stroke:0.3px #1d2433;">36.22 %</span>
<div class="b" style="left:1762.4px;top:357px;width:571.6px;height:123.6px;background:#ffffff;border:1px solid #eaecf5;border-radius:13px;"></div>
<span class="t" style="left:1785.90px;top:388px;font-size:19.8px;line-height:19.8px;color:#757575;letter-spacing:0.478px;-webkit-text-stroke:0.25px #757575;">Data Assets with Owners</span>
<span class="t" style="left:1786.90px;top:425px;font-size:25.6px;line-height:25.6px;color:#1d2433;letter-spacing:1.075px;-webkit-text-stroke:0.3px #1d2433;">3.07 %</span>
<div class="b" style="left:2357.4px;top:357px;width:571.6px;height:123.6px;background:#ffffff;border:1px solid #eaecf5;border-radius:13px;"></div>
<span class="t" style="left:2381.90px;top:388px;font-size:19.8px;line-height:19.8px;color:#757575;letter-spacing:0.473px;-webkit-text-stroke:0.25px #757575;">Total Data Assets with Tiers</span>
<span class="t" style="left:2380.90px;top:425px;font-size:25.6px;line-height:25.6px;color:#1d2433;letter-spacing:1.275px;-webkit-text-stroke:0.3px #1d2433;">0.44 %</span>
<div class="b" style="left:572px;top:504.6px;width:2358px;height:894px;background:#ffffff;border:1px solid #eaecf5;border-radius:16px;"></div>
<span class="t" style="left:605.18px;top:551px;font-size:21.8px;line-height:21.8px;color:#181d27;font-weight:700;letter-spacing:0.250px;">Key Performance Indicators (KPI)</span>
<span class="t" style="left:606.33px;top:586px;font-size:19.4px;line-height:19.4px;color:#757575;letter-spacing:0.400px;-webkit-text-stroke:0.25px #757575;">Identify the Key Performance</span>
<span class="t" style="left:872.90px;top:586px;font-size:19.4px;line-height:19.4px;color:#757575;letter-spacing:0.719px;-webkit-text-stroke:0.25px #757575;">Indicators (KPI) that best reflect the health of your data assets.</span>
<svg style="left:0;top:0" width="2943" height="1424"><line x1="685.4" y1="1174.4" x2="2075.4" y2="1174.4" stroke="#f1f1f3" stroke-width="1.4"/><line x1="685.4" y1="1027.6" x2="2075.4" y2="1027.6" stroke="#f1f1f3" stroke-width="1.4"/><line x1="685.4" y1="880.8" x2="2075.4" y2="880.8" stroke="#f1f1f3" stroke-width="1.4"/><line x1="685.4" y1="734.0" x2="2075.4" y2="734.0" stroke="#f1f1f3" stroke-width="1.4"/><line x1="685.4" y1="733.0" x2="685.4" y2="1322.2" stroke="#8e8e8e" stroke-width="1.8"/><line x1="684.4" y1="1321.2" x2="2075.4" y2="1321.2" stroke="#8e8e8e" stroke-width="1.8"/><line x1="676.8" y1="1321.2" x2="685.4" y2="1321.2" stroke="#8e8e8e" stroke-width="1.6"/><line x1="676.8" y1="1174.4" x2="685.4" y2="1174.4" stroke="#8e8e8e" stroke-width="1.6"/><line x1="676.8" y1="1027.6" x2="685.4" y2="1027.6" stroke="#8e8e8e" stroke-width="1.6"/><line x1="676.8" y1="880.8" x2="685.4" y2="880.8" stroke="#8e8e8e" stroke-width="1.6"/><line x1="676.8" y1="734.0" x2="685.4" y2="734.0" stroke="#8e8e8e" stroke-width="1.6"/><line x1="685.4" y1="1321.2" x2="685.4" y2="1329.8" stroke="#8e8e8e" stroke-width="1.6"/><line x1="884.0" y1="1321.2" x2="884.0" y2="1329.8" stroke="#8e8e8e" stroke-width="1.6"/><line x1="1082.5" y1="1321.2" x2="1082.5" y2="1329.8" stroke="#8e8e8e" stroke-width="1.6"/><line x1="1281.1" y1="1321.2" x2="1281.1" y2="1329.8" stroke="#8e8e8e" stroke-width="1.6"/><line x1="1479.7" y1="1321.2" x2="1479.7" y2="1329.8" stroke="#8e8e8e" stroke-width="1.6"/><line x1="1678.2" y1="1321.2" x2="1678.2" y2="1329.8" stroke="#8e8e8e" stroke-width="1.6"/><line x1="1876.8" y1="1321.2" x2="1876.8" y2="1329.8" stroke="#8e8e8e" stroke-width="1.6"/><line x1="2075.4" y1="1321.2" x2="2075.4" y2="1329.8" stroke="#8e8e8e" stroke-width="1.6"/><path d="M685.40,1321.20 C751.59,1292.06 817.78,1262.92 883.97,1262.92 C950.16,1262.92 1016.35,1262.92 1082.54,1262.92 C1148.73,1262.92 1214.92,1262.92 1281.11,1262.92 C1347.30,1262.92 1413.49,1275.84 1479.68,1275.84 C1545.87,1275.84 1612.06,1275.84 1678.25,1275.84 C1744.44,1275.84 1810.63,1275.84 1876.82,1275.84 C1943.01,1275.84 2009.20,1275.99 2075.39,1276.13" fill="none" stroke="#ecc06b" stroke-width="1.5"/><path d="M685.40,1321.20 C751.59,1089.99 817.78,858.78 883.97,858.78 C950.16,858.78 1016.35,858.78 1082.54,858.78 C1148.73,858.78 1214.92,858.78 1281.11,858.78 C1347.30,858.78 1413.49,789.78 1479.68,789.78 C1545.87,789.78 1612.06,789.78 1678.25,789.78 C1744.44,789.78 1810.63,789.78 1876.82,789.78 C1943.01,789.78 2009.20,789.64 2075.39,789.49" fill="none" stroke="#5079bd" stroke-width="1.5"/><circle cx="685.4" cy="1321.2" r="4.3" fill="#fff" stroke="#ecc06b" stroke-width="1.5"/><circle cx="884.0" cy="1262.9" r="4.3" fill="#fff" stroke="#ecc06b" stroke-width="1.5"/><circle cx="1082.5" cy="1262.9" r="4.3" fill="#fff" stroke="#ecc06b" stroke-width="1.5"/><circle cx="1281.1" cy="1262.9" r="4.3" fill="#fff" stroke="#ecc06b" stroke-width="1.5"/><circle cx="1479.7" cy="1275.8" r="4.3" fill="#fff" stroke="#ecc06b" stroke-width="1.5"/><circle cx="1678.2" cy="1275.8" r="4.3" fill="#fff" stroke="#ecc06b" stroke-width="1.5"/><circle cx="1876.8" cy="1275.8" r="4.3" fill="#fff" stroke="#ecc06b" stroke-width="1.5"/><circle cx="2075.4" cy="1276.1" r="4.3" fill="#fff" stroke="#ecc06b" stroke-width="1.5"/><circle cx="685.4" cy="1321.2" r="4.3" fill="#fff" stroke="#5079bd" stroke-width="1.5"/><circle cx="884.0" cy="858.8" r="4.3" fill="#fff" stroke="#5079bd" stroke-width="1.5"/><circle cx="1082.5" cy="858.8" r="4.3" fill="#fff" stroke="#5079bd" stroke-width="1.5"/><circle cx="1281.1" cy="858.8" r="4.3" fill="#fff" stroke="#5079bd" stroke-width="1.5"/><circle cx="1479.7" cy="789.8" r="4.3" fill="#fff" stroke="#5079bd" stroke-width="1.5"/><circle cx="1678.2" cy="789.8" r="4.3" fill="#fff" stroke="#5079bd" stroke-width="1.5"/><circle cx="1876.8" cy="789.8" r="4.3" fill="#fff" stroke="#5079bd" stroke-width="1.5"/><circle cx="2075.4" cy="789.5" r="4.3" fill="#fff" stroke="#5079bd" stroke-width="1.5"/></svg>
<span class="t" style="left:662.00px;top:1311px;font-size:20px;line-height:20px;color:#6e6e6e;letter-spacing:0.700px;-webkit-text-stroke:0.25px #6e6e6e;">0</span>
<span class="t" style="left:650.18px;top:1164px;font-size:20px;line-height:20px;color:#6e6e6e;letter-spacing:0.700px;-webkit-text-stroke:0.25px #6e6e6e;">10</span>
<span class="t" style="left:650.18px;top:1018px;font-size:20px;line-height:20px;color:#6e6e6e;letter-spacing:0.700px;-webkit-text-stroke:0.25px #6e6e6e;">20</span>
<span class="t" style="left:650.18px;top:871px;font-size:20px;line-height:20px;color:#6e6e6e;letter-spacing:0.700px;-webkit-text-stroke:0.25px #6e6e6e;">30</span>
<span class="t" style="left:650.18px;top:724px;font-size:20px;line-height:20px;color:#6e6e6e;letter-spacing:0.700px;-webkit-text-stroke:0.25px #6e6e6e;">40</span>
<span class="t" style="left:619.30px;top:1329px;font-size:20px;line-height:20px;color:#6e6e6e;letter-spacing:0.921px;-webkit-text-stroke:0.25px #6e6e6e;">May 22, 2025</span>
<span class="t" style="left:817.87px;top:1329px;font-size:20px;line-height:20px;color:#6e6e6e;letter-spacing:0.921px;-webkit-text-stroke:0.25px #6e6e6e;">May 23, 2025</span>
<span class="t" style="left:1016.44px;top:1329px;font-size:20px;line-height:20px;color:#6e6e6e;letter-spacing:0.921px;-webkit-text-stroke:0.25px #6e6e6e;">May 24, 2025</span>
<span class="t" style="left:1215.01px;top:1329px;font-size:20px;line-height:20px;color:#6e6e6e;letter-spacing:0.921px;-webkit-text-stroke:0.25px #6e6e6e;">May 25, 2025</span>
<span class="t" style="left:1413.58px;top:1329px;font-size:20px;line-height:20px;color:#6e6e6e;letter-spacing:0.921px;-webkit-text-stroke:0.25px #6e6e6e;">May 26, 2025</span>
<span class="t" style="left:1612.15px;top:1329px;font-size:20px;line-height:20px;color:#6e6e6e;letter-spacing:0.921px;-webkit-text-stroke:0.25px #6e6e6e;">May 27, 2025</span>
<span class="t" style="left:1810.72px;top:1329px;font-size:20px;line-height:20px;color:#6e6e6e;letter-spacing:0.921px;-webkit-text-stroke:0.25px #6e6e6e;">May 28, 2025</span>
<span class="t" style="left:1985.20px;top:1329px;font-size:20px;line-height:20px;color:#6e6e6e;letter-spacing:0.921px;-webkit-text-stroke:0.25px #6e6e6e;">May 29, 2025</span>
<span class="t" style="left:869.03px;top:675px;font-size:19.8px;line-height:19.8px;color:#757575;letter-spacing:0.500px;-webkit-text-stroke:0.25px #757575;">fraction</span>
<div class="b" style="left:840px;top:675.2px;width:19.4px;height:19.2px;background:#ecc06b;border-radius:3px;"></div>
<div class="b" style="left:965.3px;top:675.1px;width:19.1px;height:19.4px;background:#426bb5;border-radius:3.4px;"></div>
<span class="t" style="left:990.50px;top:675px;font-size:19.8px;line-height:19.8px;color:#757575;letter-spacing:0.835px;-webkit-text-stroke:0.25px #757575;">percentage</span>
<div class="b" style="left:2164px;top:704.8px;width:79px;height:78.4px;background:#f4f0fd;border-radius:13px;"></div>
<span class="t" style="left:2189.63px;top:720px;font-size:24px;line-height:24px;color:#5d4f9e;font-weight:700;letter-spacing:0.600px;">94</span>
<span class="t" style="left:2173.00px;top:750px;font-size:16.2px;line-height:16.2px;color:#7566b4;letter-spacing:0.077px;-webkit-text-stroke:0.25px #7566b4;">days left</span>
<span class="t" style="left:2260.40px;top:706px;font-size:17.7px;line-height:17.7px;color:#30363f;letter-spacing:0.082px;-webkit-text-stroke:0.25px #30363f;">Ownership Coverage</span>
<div class="b" style="left:2260.2px;top:742.1999999999999px;width:628.6px;height:8.4px;background:#f5f5f5;border-radius:4.2px;"></div>
<span class="t" style="left:2260.60px;top:767px;font-size:18px;line-height:18px;color:#30363f;letter-spacing:0.242px;-webkit-text-stroke:0.25px #30363f;">0.00%</span>
<span class="t" style="left:2824.40px;top:767px;font-size:18px;line-height:18px;color:#30363f;letter-spacing:0.671px;-webkit-text-stroke:0.25px #30363f;">53.00%</span>
<div class="b" style="left:2164px;top:866px;width:79px;height:78.4px;background:#eafafd;border-radius:13px;"></div>
<span class="t" style="left:2197.10px;top:881px;font-size:24px;line-height:24px;color:#43899a;font-weight:700;letter-spacing:0.600px;">0</span>
<span class="t" style="left:2173.00px;top:911px;font-size:16.2px;line-height:16.2px;color:#66a0ad;letter-spacing:0.077px;-webkit-text-stroke:0.25px #66a0ad;">days left</span>
<span class="t" style="left:2259.40px;top:867px;font-size:17.7px;line-height:17.7px;color:#30363f;letter-spacing:0.284px;-webkit-text-stroke:0.25px #30363f;">Descriptions</span>
<div class="b" style="left:2260.2px;top:903.4px;width:628.6px;height:8.4px;background:#f5f5f5;border-radius:4.2px;"></div>
<span class="t" style="left:2260.60px;top:928px;font-size:18px;line-height:18px;color:#30363f;letter-spacing:0.242px;-webkit-text-stroke:0.25px #30363f;">0.00%</span>
<span class="t" style="left:2824.40px;top:928px;font-size:18px;line-height:18px;color:#30363f;letter-spacing:0.671px;-webkit-text-stroke:0.25px #30363f;">52.00%</span>
<svg style="left:0;top:0" width="2943" height="1424"><circle cx="2879.1" cy="873.7" r="8.8" fill="none" stroke="#252b37" stroke-width="1.7"/><line x1="2879.1" y1="872.9" x2="2879.1" y2="878.1" stroke="#252b37" stroke-width="1.8"/><circle cx="2879.1" cy="869.7" r="1.1" fill="#252b37"/></svg>
<div class="b" style="left:860px;top:305px;width:9.8px;height:40px;overflow:hidden;">
<span class="t" style="left:0.90px;top:9px;font-size:17px;line-height:17px;color:#111111;font-weight:700;">e</span>
</div>
<div class="b" style="left:571px;top:286.3px;width:295px;height:442.6px;background:#ffffff;border:1px solid #eaecf5;border-radius:15px;box-shadow:0 3px 8px rgba(16,24,40,0.05);"></div>
<div class="b" style="left:589px;top:305.4px;width:259px;height:43.4px;background:#ffffff;border:1.5px solid #4f8ff5;border-radius:7px;box-shadow:0 0 0 2.4px rgba(21,112,239,0.16);"></div>
<span class="t" style="left:606.80px;top:316px;font-size:19px;line-height:19px;color:#bdbdbd;letter-spacing:0.792px;-webkit-text-stroke:0.25px #bdbdbd;">Search Team...</span>
<div class="b" style="left:582px;top:359.4px;width:282px;height:1px;background:#f0f0f2;"></div>
<div class="b" style="left:582px;top:360px;width:282px;height:283.6px;overflow:hidden;">
<div class="b" style="left:7px;top:13.0px;width:19.8px;height:19px;border:1px solid #d6d7da;border-radius:5.5px;background:#fff;"></div>
<span class="t" style="left:39.50px;top:13px;font-size:19px;line-height:19px;color:#181d27;letter-spacing:1.018px;-webkit-text-stroke:0.25px #181d27;">OpenMetadata Team</span>
<div class="b" style="left:7px;top:55.3px;width:19.8px;height:19px;border:1px solid #d6d7da;border-radius:5.5px;background:#fff;"></div>
<span class="t" style="left:38.50px;top:55px;font-size:19px;line-height:19px;color:#181d27;letter-spacing:0.507px;-webkit-text-stroke:0.25px #181d27;">(DIVISION) Data</span>
<div class="b" style="left:7px;top:97.6px;width:19.8px;height:19px;border:1px solid #d6d7da;border-radius:5.5px;background:#fff;"></div>
<span class="t" style="left:39.50px;top:98px;font-size:19px;line-height:19px;color:#181d27;letter-spacing:0.948px;-webkit-text-stroke:0.25px #181d27;">test team</span>
<div class="b" style="left:7px;top:140.0px;width:19.8px;height:19px;border:1px solid #d6d7da;border-radius:5.5px;background:#fff;"></div>
<span class="t" style="left:38.50px;top:140px;font-size:19px;line-height:19px;color:#181d27;letter-spacing:0.702px;-webkit-text-stroke:0.25px #181d27;">(TEAM) Data</span>
<div class="b" style="left:7px;top:182.3px;width:19.8px;height:19px;border:1px solid #d6d7da;border-radius:5.5px;background:#fff;"></div>
<span class="t" style="left:39.50px;top:182px;font-size:19px;line-height:19px;color:#181d27;letter-spacing:0.470px;-webkit-text-stroke:0.25px #181d27;">TESTDept</span>
<div class="b" style="left:7px;top:224.6px;width:19.8px;height:19px;border:1px solid #d6d7da;border-radius:5.5px;background:#fff;"></div>
<span class="t" style="left:38.50px;top:225px;font-size:19px;line-height:19px;color:#181d27;letter-spacing:1.046px;-webkit-text-stroke:0.25px #181d27;">Engineering</span>
<div class="b" style="left:7px;top:266.9px;width:19.8px;height:19px;border:1px solid #d6d7da;border-radius:5.5px;background:#fff;"></div>
<span class="t" style="left:39.50px;top:267px;font-size:19px;line-height:19px;color:#181d27;letter-spacing:1.321px;-webkit-text-stroke:0.25px #181d27;">Accounts</span>
</div>
<div class="b" style="left:850.9px;top:360.2px;width:12.9px;height:126px;background:#c8d6e0;border-radius:6.5px;"></div>
<div class="b" style="left:589px;top:660.5px;width:90px;height:50.2px;background:#efefef;border-radius:11px;"></div>
<span class="t" style="left:600.00px;top:675px;font-size:19.4px;line-height:19.4px;color:#181d27;letter-spacing:1.171px;-webkit-text-stroke:0.25px #181d27;">Update</span>
<span class="t" style="left:702.00px;top:675px;font-size:19.4px;line-height:19.4px;color:#2370ee;letter-spacing:0.802px;-webkit-text-stroke:0.25px #2370ee;">Close</span>
<div class="b" style="left:578px;top:301.8px;width:290px;height:423px;border:4px solid #0d99ff;"></div>
<div class="b" style="left:2893.3px;top:1321.6px;width:69px;height:69px;background:#ffffff;border-radius:34.5px;box-shadow:0 0 11px 1px rgba(21,100,230,0.38);"></div>
<svg style="left:0;top:0" width="2943" height="1424">
<circle cx="2927.8" cy="1356.1" r="30.8" fill="#0b50c8"/>
<path d="M2917 1346.1 H2950 V1372.2 H2935.4 L2930.9 1376.6 L2930.7 1372.2 H2917 C2913 1372.2 2910.8 1369.6 2910.6 1365.6 C2908.8 1364.4 2908.4 1361.6 2908.4 1359 C2908.4 1356.4 2908.8 1353.8 2910.6 1352.6 C2910.8 1348.6 2913 1346.1 2917 1346.1 Z" fill="#ffffff"/>
<rect x="2915" y="1352.3" width="26.6" height="13.4" rx="3.4" fill="#c6e2ff"/>
<circle cx="2921.8" cy="1359.1" r="2" fill="#0b50c8"/><circle cx="2934.4" cy="1359.1" r="2" fill="#0b50c8"/>
<line x1="2928.2" y1="1346.6" x2="2928.2" y2="1340" stroke="#ffffff" stroke-width="1.5"/><circle cx="2928.2" cy="1339.2" r="2.2" fill="#ffffff"/>
</svg>
<div class="b" style="left:0;top:1346px;width:2943px;height:78px;background:linear-gradient(to bottom, rgba(30,32,42,0) 0%, rgba(30,32,42,0.012) 36%, rgba(30,32,42,0.048) 66%, rgba(30,32,42,0.078) 84%, rgba(30,32,42,0.108) 100%);-webkit-mask-image:linear-gradient(to right, rgba(0,0,0,0.3) 0px, rgba(0,0,0,0.45) 60px, rgba(0,0,0,1) 135px);mask-image:linear-gradient(to right, rgba(0,0,0,0.3) 0px, rgba(0,0,0,0.45) 60px, rgba(0,0,0,1) 135px);"></div>
</body></html>
